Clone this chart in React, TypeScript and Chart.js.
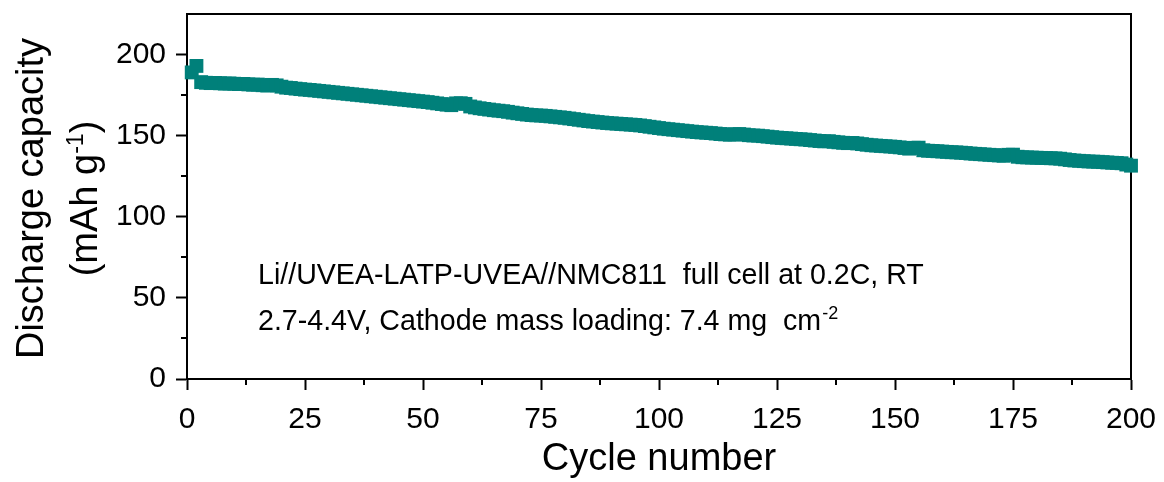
import React, { useEffect, useRef } from 'react';
import { Chart, registerables } from 'chart.js';

Chart.register(...registerables);

// Discharge capacity (mAh g-1) for cycles 1..200
const capacity: number[] = [
  189.0, 193.0, 183.0, 182.6, 182.4, 182.5, 182.3, 182.1, 182.2, 182.0,
  181.8, 181.9, 181.6, 181.4, 181.5, 181.1, 180.9, 181.3, 181.0, 180.2,
  179.6, 179.4, 179.0, 178.7, 178.4, 178.2, 177.9, 177.6, 177.3, 177.0,
  176.7, 176.4, 176.1, 175.8, 175.5, 175.2, 174.9, 174.6, 174.3, 174.0,
  173.7, 173.4, 173.1, 172.8, 172.5, 172.2, 171.9, 171.6, 171.3, 171.0,
  170.7, 170.3, 169.9, 169.5, 169.1, 168.8, 169.9, 170.0, 169.6, 168.0,
  167.4, 166.9, 166.5, 166.1, 165.7, 165.4, 165.1, 164.7, 164.2, 163.8,
  163.4, 163.0, 162.7, 162.5, 162.4, 162.2, 161.9, 161.6, 161.3, 161.0,
  160.6, 160.2, 159.8, 159.4, 159.0, 158.7, 158.4, 158.1, 157.8, 157.6,
  157.4, 157.2, 157.0, 156.8, 156.6, 156.3, 155.9, 155.5, 155.1, 154.7,
  154.3, 154.0, 153.7, 153.4, 153.1, 152.8, 152.5, 152.2, 152.0, 151.8,
  151.6, 151.3, 151.0, 150.8, 150.6, 150.8, 151.0, 150.7, 150.3, 150.1,
  150.0, 149.7, 149.4, 149.1, 148.8, 148.6, 148.4, 148.2, 148.0, 147.8,
  147.6, 147.3, 147.0, 146.7, 146.5, 146.6, 146.2, 145.9, 145.6, 145.4,
  145.5, 145.2, 144.8, 144.4, 144.1, 143.9, 143.7, 143.5, 143.3, 143.1,
  142.8, 142.4, 142.0, 142.5, 142.6, 141.0, 140.7, 140.6, 140.4, 140.2,
  140.0, 139.8, 139.7, 139.5, 139.3, 139.0, 138.8, 138.6, 138.4, 138.2,
  138.0, 137.8, 137.6, 138.2, 138.3, 137.0, 136.7, 136.6, 136.5, 136.4,
  136.3, 136.2, 136.1, 136.0, 135.8, 135.4, 135.0, 134.7, 134.5, 134.3,
  134.1, 134.0, 133.9, 133.7, 133.5, 133.3, 133.2, 133.0, 132.2, 131.5,
];

const xMajorTicks: number[] = [0, 25, 50, 75, 100, 125, 150, 175, 200];
const xMinorTicks: number[] = [12.5, 37.5, 62.5, 87.5, 112.5, 137.5, 162.5, 187.5];
const yMajorTicks: number[] = [0, 50, 100, 150, 200];
const yMinorTicks: number[] = [25, 75, 125, 175];

const xTitle = 'Cycle number';
const yTitleLine1 = 'Discharge capacity';
const yTitleLine2 = ['(mAh g', '-1', ')'];
const noteLine1 = 'Li//UVEA-LATP-UVEA//NMC811  full cell at 0.2C, RT';
const noteLine2 = ['2.7-4.4V, Cathode mass loading: 7.4 mg  cm', '-2'];

const FONT = '"Liberation Sans", Arial, Helvetica, sans-serif';
const TEAL = '#00807A';

const decorPlugin = {
  id: 'decor',
  beforeDatasetsDraw(chart: any) {
    const { ctx, chartArea, scales } = chart;
    const xs = scales.x;
    const ys = scales.y;
    ctx.save();
    ctx.strokeStyle = '#000';
    ctx.lineWidth = 2;
    ctx.beginPath();
    ctx.moveTo(chartArea.left, chartArea.top);
    ctx.lineTo(chartArea.right, chartArea.top);
    ctx.lineTo(chartArea.right, chartArea.bottom);
    ctx.stroke();
    ctx.beginPath();
    xMinorTicks.forEach((v) => {
      const px = Math.round(xs.getPixelForValue(v));
      ctx.moveTo(px, chartArea.bottom);
      ctx.lineTo(px, chartArea.bottom + 6);
    });
    yMinorTicks.forEach((v) => {
      const py = Math.round(ys.getPixelForValue(v));
      ctx.moveTo(chartArea.left, py);
      ctx.lineTo(chartArea.left - 6, py);
    });
    ctx.stroke();
    ctx.restore();
  },
  afterDraw(chart: any) {
    const { ctx, chartArea } = chart;
    ctx.save();
    ctx.fillStyle = '#000';
    ctx.font = `38px ${FONT}`;
    ctx.textAlign = 'center';
    ctx.textBaseline = 'alphabetic';
    ctx.fillText(xTitle, (chartArea.left + chartArea.right) / 2, 470);

    const cy = (chartArea.top + chartArea.bottom) / 2 + 2;
    ctx.save();
    ctx.translate(0, cy);
    ctx.rotate(-Math.PI / 2);
    ctx.font = `38px ${FONT}`;
    ctx.textAlign = 'center';
    ctx.fillText(yTitleLine1, 0, 43);
    ctx.textAlign = 'left';
    const w1 = ctx.measureText(yTitleLine2[0]).width;
    const w3 = ctx.measureText(yTitleLine2[2]).width;
    ctx.font = `23px ${FONT}`;
    const w2 = ctx.measureText(yTitleLine2[1]).width;
    const total = w1 + w2 + w3;
    let tx = -total / 2;
    ctx.font = `38px ${FONT}`;
    ctx.fillText(yTitleLine2[0], tx, 97);
    tx += w1;
    ctx.font = `23px ${FONT}`;
    ctx.fillText(yTitleLine2[1], tx, 83);
    tx += w2;
    ctx.font = `38px ${FONT}`;
    ctx.fillText(yTitleLine2[2], tx, 97);
    ctx.restore();

    ctx.textAlign = 'left';
    ctx.font = `28.6px ${FONT}`;
    ctx.fillText(noteLine1, 258, 284);
    ctx.fillText(noteLine2[0], 258, 330);
    const wl = ctx.measureText(noteLine2[0]).width;
    ctx.font = `18px ${FONT}`;
    ctx.fillText(noteLine2[1], 258 + wl + 1, 319);
    ctx.restore();
  },
};

export default function App() {
  const canvasRef = useRef<HTMLCanvasElement | null>(null);

  useEffect(() => {
    document.body.style.margin = '0';
    const canvas = canvasRef.current;
    if (!canvas) return;
    const points = capacity.map((v, i) => ({ x: i + 1, y: v }));
    const chart = new Chart(canvas, {
      type: 'scatter',
      data: {
        datasets: [
          {
            label: 'Discharge capacity',
            data: points,
            showLine: false,
            pointStyle: 'rect',
            pointRadius: 9.8,
            pointBorderWidth: 0,
            pointBackgroundColor: TEAL,
            pointBorderColor: TEAL,
            clip: false,
          } as any,
        ],
      },
      options: {
        animation: false,
        responsive: false,
        maintainAspectRatio: false,
        devicePixelRatio: 1,
        layout: { padding: { top: 14, right: 33, bottom: 0, left: 0 } },
        plugins: {
          legend: { display: false },
          tooltip: { enabled: false },
          title: { display: false },
        },
        scales: {
          x: {
            type: 'linear',
            min: 0,
            max: 200,
            afterBuildTicks: (scale: any) => {
              scale.ticks = xMajorTicks.map((v) => ({ value: v }));
            },
            afterFit: (scale: any) => {
              scale.height = 103;
              scale.paddingLeft = 0;
              scale.paddingRight = 0;
            },
            border: { display: true, color: '#000', width: 2 },
            grid: {
              display: true,
              drawOnChartArea: false,
              drawTicks: true,
              tickLength: 11,
              tickWidth: 2,
              tickColor: '#000',
            },
            ticks: {
              color: '#000',
              font: { family: FONT, size: 30 },
              padding: 12,
              maxRotation: 0,
              autoSkip: false,
            },
          },
          y: {
            type: 'linear',
            min: 0,
            max: 225,
            afterBuildTicks: (scale: any) => {
              scale.ticks = yMajorTicks.map((v) => ({ value: v }));
            },
            afterFit: (scale: any) => {
              scale.width = 187;
              scale.paddingTop = 0;
              scale.paddingBottom = 0;
            },
            border: { display: true, color: '#000', width: 2 },
            grid: {
              display: true,
              drawOnChartArea: false,
              drawTicks: true,
              tickLength: 11,
              tickWidth: 2,
              tickColor: '#000',
            },
            ticks: {
              color: '#000',
              font: { family: FONT, size: 30 },
              padding: 10,
              autoSkip: false,
            },
          },
        },
      },
      plugins: [decorPlugin],
    });
    return () => chart.destroy();
  }, []);

  return (
    <div style={{ position: 'absolute', left: 0, top: 0, width: 1164, height: 482, background: '#fff' }}>
      <canvas ref={canvasRef} width={1164} height={482} style={{ display: 'block' }} />
    </div>
  );
}
